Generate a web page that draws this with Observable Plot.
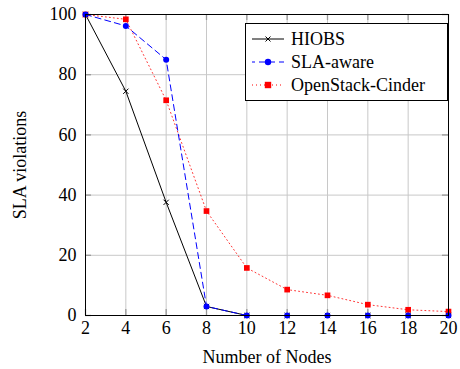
<!DOCTYPE html>
<html><head><meta charset="utf-8">
<script src="https://cdn.jsdelivr.net/npm/d3@7"></script>
<script src="https://cdn.jsdelivr.net/npm/@observablehq/plot@0.6"></script>
<style>
body{margin:0;background:#fff;}
#wrap{position:relative;width:460px;height:369px;font-family:"Liberation Serif",serif;}
#wrap svg text{font-family:"Liberation Serif",serif;font-size:18px;fill:#000;}
#legend{position:absolute;left:245px;top:23px;width:201px;height:76px;border:1px solid #000;background:#fff;font-size:18px;}
#legend .row{position:absolute;left:0;height:24px;display:flex;align-items:center;}
#legend svg{margin-left:6px;margin-right:7px;}
</style></head>
<body><div id="wrap"></div>
<script>
const nodes = [2,4,6,8,10,12,14,16,18,20];
const hiobs = [100,74.5,37.6,3,0,0,0,0,0,0];
const slaAware = [100,96.2,85,3,0,0,0,0,0,0];
const cinder = [100,98.4,71.5,34.7,15.8,8.6,6.7,3.6,1.9,1.3];
const seriesNames = ["HIOBS","SLA-aware","OpenStack-Cinder"];
const xTicks = [2,4,6,8,10,12,14,16,18,20];
const yTicks = [0,20,40,60,80,100];

const rows = (vals) => nodes.map((n,i)=>({x:n,y:vals[i]}));
const dH = rows(hiobs), dS = rows(slaAware), dC = rows(cinder);

const chart = Plot.plot({
  width:460, height:369,
  marginLeft:85, marginRight:12, marginTop:14, marginBottom:54,
  style:{fontFamily:"Liberation Serif, serif", fontSize:"18px", color:"#000", background:"#fff"},
  x:{domain:[2,20]},
  y:{domain:[0,100]},
  marks:[
    Plot.gridX(xTicks,{stroke:"#c8c8c8", strokeOpacity:1}),
    Plot.gridY(yTicks,{stroke:"#c8c8c8", strokeOpacity:1}),
    Plot.ruleX(xTicks,{y1:0,y2:2,stroke:"#999",strokeWidth:1.3}),
    Plot.ruleX(xTicks,{y1:98,y2:100,stroke:"#999",strokeWidth:1.3}),
    Plot.ruleY(yTicks,{x1:2,x2:2.3,stroke:"#999",strokeWidth:1.3}),
    Plot.ruleY(yTicks,{x1:19.7,x2:20,stroke:"#999",strokeWidth:1.3}),
    Plot.axisX({ticks:xTicks, tickSize:0, tickPadding:6, fontSize:18, label:"Number of Nodes", labelAnchor:"center", labelArrow:"none", labelOffset:47}),
    Plot.axisY({ticks:yTicks, tickSize:0, tickPadding:9, fontSize:18, label:"SLA violations", labelAnchor:"center", labelArrow:"none", labelOffset:72}),
    Plot.line(dC,{x:"x",y:"y",stroke:"#ff0000",strokeWidth:1,strokeDasharray:"1,3",strokeOpacity:0.8}),
    Plot.line(dH,{x:"x",y:"y",stroke:"#000",strokeWidth:1}),
    Plot.line(dS,{x:"x",y:"y",stroke:"#0000ff",strokeWidth:1,strokeDasharray:"6,4"}),
    Plot.dot(dC,{x:"x",y:"y",symbol:"square",fill:"#ff0000",r:3.2}),
    Plot.dot(dH,{x:"x",y:"y",symbol:"times",stroke:"#000",strokeWidth:1,r:2.5}),
    Plot.dot(dS,{x:"x",y:"y",symbol:"circle",fill:"#0000ff",r:3}),
    Plot.frame({stroke:"#000",strokeWidth:1})
  ]
});
const wrap = document.getElementById("wrap");
wrap.appendChild(chart);

const leg = document.createElement("div");
leg.id="legend";
const samples = [
  `<line x1="0" y1="8" x2="32" y2="8" stroke="#000" stroke-width="1"/><path d="M13.5,5.5L18.5,10.5M18.5,5.5L13.5,10.5" stroke="#000" stroke-width="1"/>`,
  `<line x1="0" y1="8" x2="32" y2="8" stroke="#0000ff" stroke-width="1" stroke-dasharray="6,4" stroke-dashoffset="3"/><circle cx="16" cy="8" r="3.2" fill="#0000ff"/>`,
  `<line x1="0" y1="8" x2="32" y2="8" stroke="#ff0000" stroke-width="1" stroke-dasharray="1,3"/><rect x="12.8" y="4.8" width="6.4" height="6.4" fill="#ff0000"/>`
];
seriesNames.forEach((name,i)=>{
  const r=document.createElement("div");
  r.className="row";
  r.style.top=(3+i*23)+"px";
  r.innerHTML=`<svg width="32" height="16">${samples[i]}</svg><span>${name}</span>`;
  leg.appendChild(r);
});
wrap.appendChild(leg);
</script></body></html>
